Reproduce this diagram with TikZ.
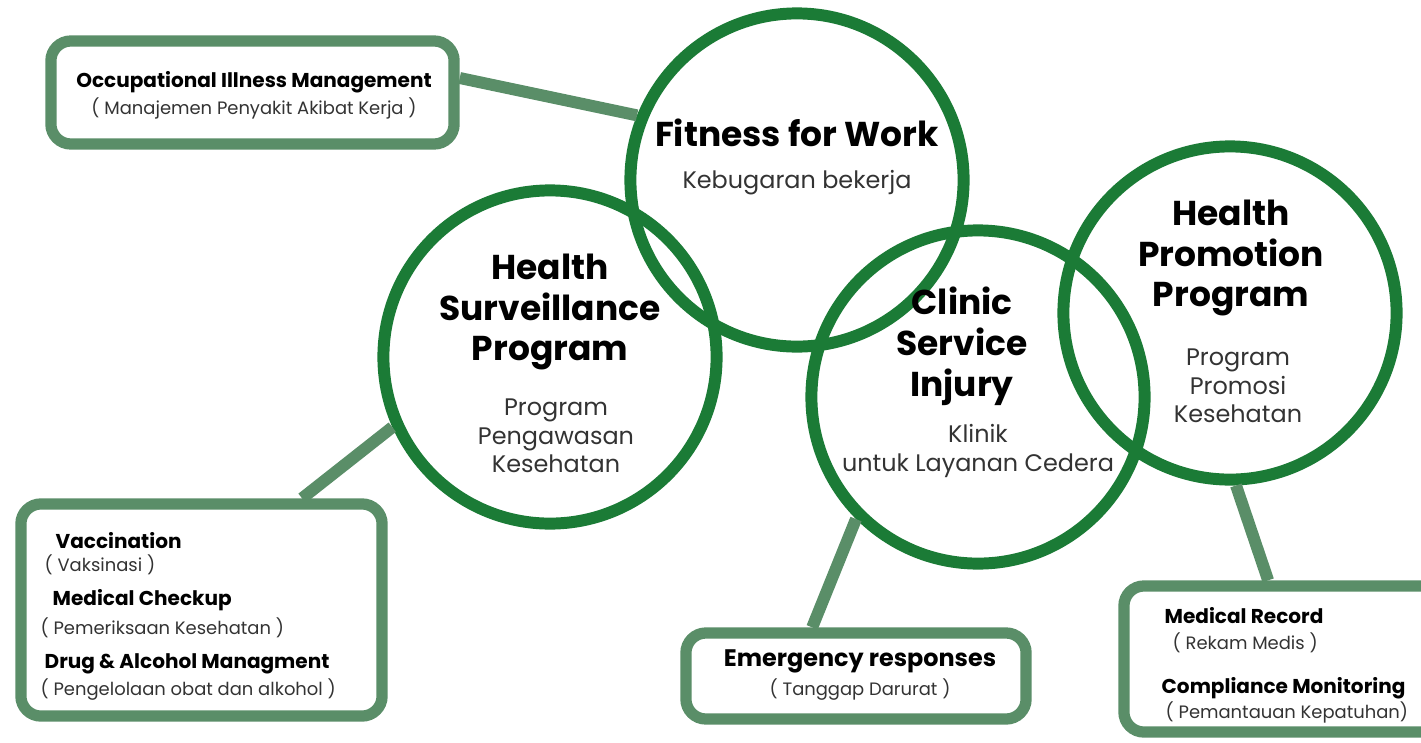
\documentclass[tikz,border=0pt]{standalone}
\usepackage{fontspec}
\setmainfont{Poppins}
\usepackage{tikz}
\usetikzlibrary{positioning, calc}
\definecolor{ringgreen}{HTML}{1B7B36}
\definecolor{boxgreen}{HTML}{5A8E68}
\definecolor{subgray}{HTML}{333333}

\begin{document}
\begin{tikzpicture}[
    x=0.01cm, y=-0.01cm,
    ring/.style={circle, draw=ringgreen, line width=3.4pt, minimum size=3.33cm, inner sep=0pt},
    panel/.style={rectangle, draw=boxgreen, fill=white, line width=3.2pt, rounded corners=0.2cm, inner sep=0pt},
    link/.style={draw=boxgreen, line width=3.4pt},
    ttl/.style={align=center, font=\bfseries\fontsize{9.8}{11.6}\selectfont, text=black, inner sep=0pt},
    sub/.style={align=center, font=\fontsize{6.8}{8.1}\selectfont, text=subgray, inner sep=0pt},
    itm/.style={font=\bfseries\fontsize{5.7}{6.5}\selectfont, text=black, inner sep=0pt, anchor=west},
    note/.style={font=\fontsize{5.1}{5.5}\selectfont, text=subgray, inner sep=0pt, anchor=west}
]
    \useasboundingbox (0,0) rectangle (1421,742);

    % side boxes
    \node [panel, minimum width=4.03cm, minimum height=1.03cm] (occ) at (252.5,92.5) {};
    \node [panel, minimum width=3.61cm, minimum height=2.12cm] (surv) at (201.5,610) {};
    \node [panel, minimum width=3.40cm, minimum height=0.86cm] (emer) at (856,676) {};
    \node [panel, minimum width=3.16cm, minimum height=1.46cm] (rec) at (1282,659) {};

    % circles
    \node [ring] (fit) at (797,180) {};
    \node [ring] (hsp) at (550,357) {};
    \node [ring] (csi) at (978,397) {};
    \node [ring] (hpp) at (1230,313) {};

    % connectors
    \draw [link] (occ.4) -- (fit.158);
    \draw [link] (hsp.204) -- (surv.48);
    \draw [link] (csi.225) -- (emer.132);
    \draw [link] (hpp.272) -- (rec.100);

    % circle texts
    \node [ttl] (fitT) at (797,133) {Fitness for Work};
    \node [sub] (fitS) at (797,183) {Kebugaran bekerja};

    \node [ttl] (hspT) at (550,312) {Health\\Surveillance\\Program};
    \node [sub] (hspS) at (556,436) {Program\\Pengawasan\\Kesehatan};

    \node [ttl] (csiT) at (962,346) {Clinic\\Service\\Injury};
    \node [sub] (csiS) at (978,451) {Klinik\\untuk Layanan Cedera};

    \node [ttl] (hppT) at (1231,258) {Health\\Promotion\\Program};
    \node [sub] (hppS) at (1238,386) {Program\\Promosi\\Kesehatan};

    % box texts
    \node [itm, anchor=center] (occT) at (254,82) {Occupational Illness Management};
    \node [note, anchor=center] (occS) at (254,108) {( Manajemen Penyakit Akibat Kerja )};

    \node [itm] (vac) at (55,541) {Vaccination};
    \node [note] (vacS) at (44,565) {( Vaksinasi )};
    \node [itm] (mcu) at (52,600) {Medical Checkup};
    \node [note] (mcuS) at (40,628) {( Pemeriksaan Kesehatan )};
    \node [itm] (dam) at (44,664) {Drug \& Alcohol Managment};
    \node [note] (damS) at (40,690) {( Pengelolaan obat dan alkohol )};

    \node [itm, anchor=center, font=\bfseries\fontsize{6.8}{8}\selectfont] (emT) at (860,661) {Emergency responses};
    \node [note, anchor=center] (emS) at (860,690) {( Tanggap Darurat )};

    \node [itm] (mr) at (1164,616) {Medical Record};
    \node [note] (mrS) at (1172,643) {( Rekam Medis )};
    \node [itm] (cm) at (1161,688) {Compliance Monitoring};
    \node [note] (cmS) at (1165,712) {( Pemantauan Kepatuhan)};
\end{tikzpicture}
\end{document}
